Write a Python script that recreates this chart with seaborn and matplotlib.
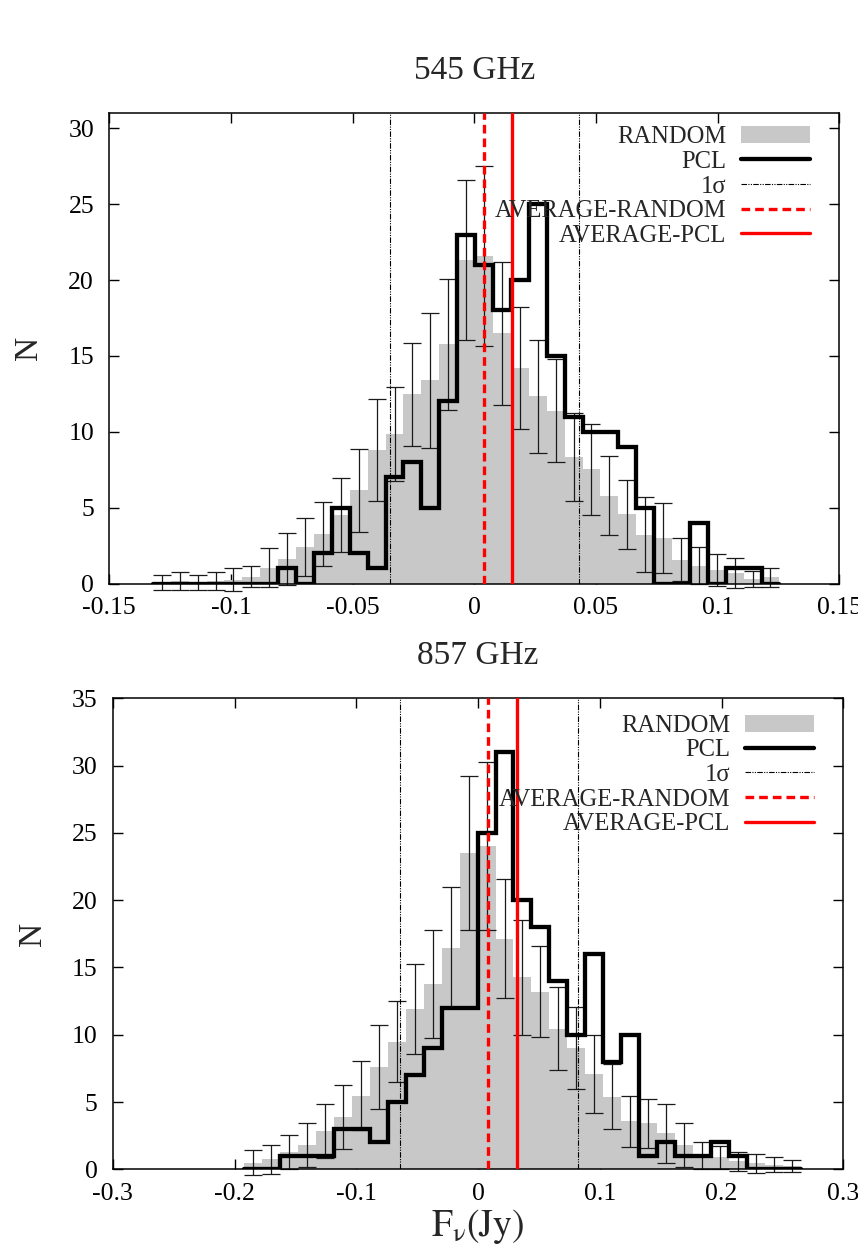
import numpy as np
import pandas as pd
import matplotlib
matplotlib.use("Agg")
import matplotlib.pyplot as plt
import seaborn as sns
from matplotlib.patches import Patch
from matplotlib.lines import Line2D
from matplotlib.ticker import FixedLocator, FuncFormatter

# ------------------------------------------------------------------ data
panel_titles = ["545 GHz", "857 GHz"]
legend_labels = ["RANDOM", "PCL", "1σ", "AVERAGE-RANDOM", "AVERAGE-PCL"]

# 545 GHz panel: 35 bins
bin_start_545 = -0.1321
bin_width_545 = 0.007357
random_545 = [0.05, 0.15, 0.05, 0.15, 0.25, 0.45,
              1.05, 1.6, 2.4, 3.24, 4.5, 6.15, 8.8,
              9.86, 12.47, 13.4, 15.77, 21.32, 21.6, 16.49, 14.23, 12.33, 11.39,
              8.35, 7.53, 5.78, 4.57, 3.23, 3.0, 1.58, 1.18, 0.89, 0.7, 0.3, 0.4]
random_err_545 = [0.5, 0.6, 0.5, 0.6, 0.75, 0.7,
                  1.27, 1.7, 1.93, 2.1, 2.45, 2.73, 3.35,
                  3.07, 3.4, 4.44, 4.33, 5.28, 5.95, 4.7, 4.02, 3.73, 3.41,
                  2.9, 3.0, 2.6, 2.28, 2.44, 2.33, 1.41, 1.2, 1.05, 1.0, 0.5, 0.6]
pcl_545 = [0, 0, 0, 0, 0, 0, 0, 1, 0, 2, 5, 2, 1, 7, 8, 5, 12, 23, 21, 18,
           20, 25, 15, 11, 10, 10, 9, 5, 0, 0, 4, 0, 1, 1, 0]
sigma_545 = [-0.0346, 0.0430]
avg_random_545 = 0.0040
avg_pcl_545 = 0.0156
xticks_545 = [-0.15, -0.1, -0.05, 0, 0.05, 0.1, 0.15]
yticks_545 = [0, 5, 10, 15, 20, 25, 30]
xlim_545 = (-0.15, 0.15)
ylim_545 = (0, 31)

# 857 GHz panel: 31 bins
bin_start_857 = -0.19195
bin_width_857 = 0.014737
random_857 = [0.5, 0.74, 1.29, 1.82, 2.85, 3.91, 5.47, 7.58, 9.49, 11.94,
              13.78, 16.45, 23.5, 24.0, 17.15, 14.28, 13.2, 10.45, 9.0, 7.05,
              5.4, 3.58, 3.42, 2.67, 1.82, 1.0, 0.9, 0.6, 0.45, 0.35, 0.25]
random_err_857 = [0.9, 1.07, 1.28, 1.65, 1.98, 2.38, 2.56, 3.12, 3.0, 3.35,
                  4.0, 4.5, 5.7, 6.23, 4.44, 4.28, 3.4, 3.1, 3.05, 2.9,
                  2.44, 1.9, 1.84, 2.2, 1.65, 1.0, 0.85, 0.7, 0.7, 0.55, 0.45]
pcl_857 = [0, 0, 1, 1, 1, 3, 3, 2, 5, 7, 9, 12, 12, 25, 31, 20, 18, 14, 10, 16,
           8, 10, 1, 2, 1, 1, 2, 1, 0, 0, 0]
sigma_857 = [-0.0641, 0.0818]
avg_random_857 = 0.0084
avg_pcl_857 = 0.0317
xticks_857 = [-0.3, -0.2, -0.1, 0, 0.1, 0.2, 0.3]
yticks_857 = [0, 5, 10, 15, 20, 25, 30, 35]
xlim_857 = (-0.3, 0.3)
ylim_857 = (0, 35)

# ------------------------------------------------------------------ style
sns.set_style("ticks")
plt.rcParams["font.family"] = ["Liberation Serif", "DejaVu Serif"]
plt.rcParams["mathtext.fontset"] = "stix"
plt.rcParams["axes.unicode_minus"] = False

GRAY = "#c8c8c8"
RED = "#ff0000"
SIGMA_LS = (0, (5, 1.2, 1, 1.2, 1, 1.2))
RED_DASH = (0, (2.6, 1.5))

fig = plt.figure(figsize=(8.58, 12.5), dpi=100)
ax1 = fig.add_axes([0.1274, 0.5332, 0.8508, 0.3762])
ax2 = fig.add_axes([0.1314, 0.06456, 0.8515, 0.3768])


def draw_panel(ax, start, width, rnd, rnd_err, pcl, sig, avg_r, avg_p,
               xticks, yticks, xlim, ylim, title, title_pad, leg_anchor):
    n = len(rnd)
    edges = list(start + width * np.arange(n + 1))
    centers = [0.5 * (edges[i] + edges[i + 1]) for i in range(n)]
    df = pd.DataFrame({"flux": centers, "random": rnd, "pcl": pcl})

    sns.histplot(data=df, x="flux", weights="random", bins=edges, element="step",
                 fill=True, color=GRAY, alpha=1, linewidth=0, ax=ax, zorder=1)
    eb = ax.errorbar(df["flux"], df["random"], yerr=rnd_err, fmt="none",
                     ecolor="#1a1a1a", elinewidth=0.9, capsize=6.3,
                     capthick=0.9, zorder=2)
    for art in list(eb.lines[1]) + list(eb.lines[2]):
        art.set_clip_on(False)
    n_lines_before = len(ax.lines)
    sns.histplot(data=df, x="flux", weights="pcl", bins=edges, element="step",
                 fill=False, color="black", linewidth=3.1, ax=ax, zorder=3)
    for ln in ax.lines[n_lines_before:]:
        ln.set_solid_joinstyle("miter")

    for s in sig:
        ax.axvline(s, color="black", lw=0.8, ls=SIGMA_LS, zorder=4)
    ax.axvline(avg_r, color=RED, lw=2.4, ls=RED_DASH, zorder=4)
    ax.axvline(avg_p, color=RED, lw=2.4, zorder=4)

    ax.set_xlim(*xlim)
    ax.set_ylim(*ylim)
    ax.xaxis.set_major_locator(FixedLocator(xticks))
    ax.yaxis.set_major_locator(FixedLocator(yticks))
    ax.xaxis.set_major_formatter(FuncFormatter(lambda v, p: "%g" % round(v, 4)))
    ax.yaxis.set_major_formatter(FuncFormatter(lambda v, p: "%g" % v))
    ax.tick_params(direction="in", length=7, width=1, top=True, right=True,
                   labelsize=18.5, colors="black")
    ax.tick_params(axis="x", pad=10)
    ax.tick_params(axis="y", pad=11)
    for sp in ax.spines.values():
        sp.set_visible(True)
        sp.set_linewidth(1.1)
        sp.set_color("black")
    ax.set_ylabel("N", fontsize=24)
    ax.yaxis.set_label_coords(-0.089, 0.5)
    ax.set_xlabel("")
    ax.set_title(title, fontsize=24, pad=title_pad)

    handles = [Patch(facecolor=GRAY, edgecolor="none"),
               Line2D([], [], color="black", lw=3.1),
               Line2D([], [], color="black", lw=0.8, ls=SIGMA_LS),
               Line2D([], [], color=RED, lw=2.4, ls=RED_DASH),
               Line2D([], [], color=RED, lw=2.4)]
    ax.legend(handles, legend_labels, loc="upper right", bbox_to_anchor=leg_anchor,
              frameon=False, markerfirst=False, fontsize=17.7, handlelength=2.8,
              handletextpad=0.6, labelspacing=0.1, borderpad=0, borderaxespad=0)


draw_panel(ax1, bin_start_545, bin_width_545, random_545, random_err_545, pcl_545,
           sigma_545, avg_random_545, avg_pcl_545, xticks_545, yticks_545,
           xlim_545, ylim_545, panel_titles[0], 24.5, (0.960, 0.9726))
draw_panel(ax2, bin_start_857, bin_width_857, random_857, random_err_857, pcl_857,
           sigma_857, avg_random_857, avg_pcl_857, xticks_857, yticks_857,
           xlim_857, ylim_857, panel_titles[1], 25, (0.960, 0.9656))

ax2.set_xlabel(r"$\mathrm{F_{\nu}(Jy)}$", fontsize=27)
ax2.xaxis.set_label_coords(0.5, -0.08)

fig.savefig("out.png", dpi=100)
